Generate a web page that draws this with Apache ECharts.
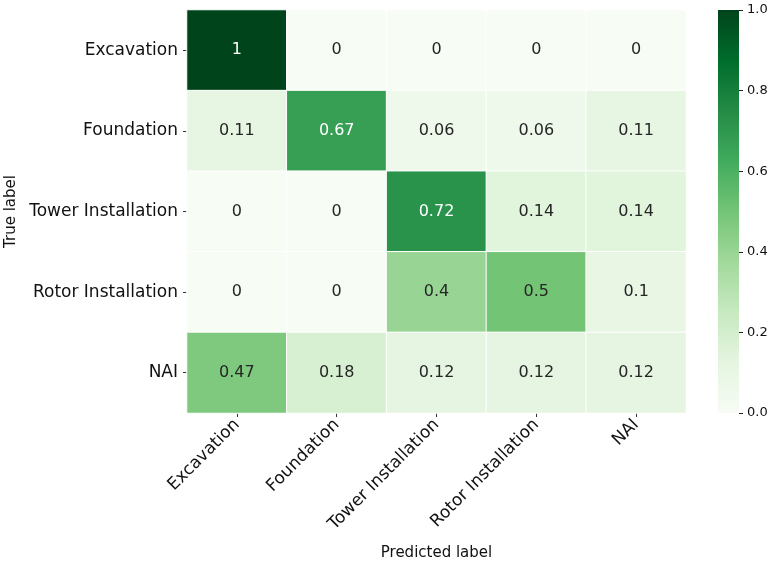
<!DOCTYPE html>
<html>
<head>
<meta charset="utf-8">
<script src="https://cdn.jsdelivr.net/npm/echarts@6/dist/echarts.min.js"></script>
<style>
  html, body { margin: 0; padding: 0; background: #fff; }
  #chart { width: 770px; height: 566px; }
</style>
</head>
<body>
<div id="chart"></div>
<script>
// Class names shared by both axes
const classes = ['Excavation', 'Foundation', 'Tower Installation', 'Rotor Installation', 'NAI'];

// Normalised confusion matrix, one array per true class (row), columns = predicted class
const rowExcavation = [1, 0, 0, 0, 0];
const rowFoundation = [0.11, 0.67, 0.06, 0.06, 0.11];
const rowTower      = [0, 0, 0.72, 0.14, 0.14];
const rowRotor      = [0, 0, 0.4, 0.5, 0.1];
const rowNAI        = [0.47, 0.18, 0.12, 0.12, 0.12];

// Colour bar tick spacing
const colorbarStep = 0.2;

// Sequential "Greens" palette
const greens = ['#f7fcf5', '#e5f5e0', '#c7e9c0', '#a1d99b', '#74c476', '#41ab5d', '#238b45', '#006d2c', '#00441b'];

const rows = [rowExcavation, rowFoundation, rowTower, rowRotor, rowNAI];
const cells = [];
rows.forEach((row, yi) => {
  row.forEach((v, xi) => {
    cells.push({
      value: [xi, yi, v],
      label: { color: v > 0.6 ? '#ffffff' : '#262626' }
    });
  });
});

const FONT = 'DejaVu Sans';
const INK = '#111111';
const chart = echarts.init(document.getElementById('chart'));
chart.setOption({
  animation: false,
  backgroundColor: '#ffffff',
  textStyle: { fontFamily: FONT },
  grid: [
    { left: 187, right: 84, top: 10, bottom: 153, containLabel: false, outerBoundsMode: 'none' },
    // colour bar strip: carries the bar's scale, tick marks and labels
    { left: 718, width: 21, top: 10, height: 403, containLabel: false, outerBoundsMode: 'none' }
  ],
  xAxis: [
    {
      type: 'category',
      gridIndex: 0,
      data: classes,
      axisLine: { show: false },
      axisTick: { show: true, alignWithLabel: true, length: 4, lineStyle: { color: '#333' } },
      axisLabel: { rotate: 45, fontSize: 17, color: INK, fontFamily: FONT, margin: 9, interval: 0 },
      splitArea: { show: false },
      name: 'Predicted label',
      nameLocation: 'middle',
      nameGap: 133,
      nameTextStyle: { fontSize: 15, color: INK, fontFamily: FONT }
    },
    {
      type: 'value', gridIndex: 1, min: 0, max: 1, show: false
    }
  ],
  yAxis: [
    {
      type: 'category',
      gridIndex: 0,
      data: classes,
      inverse: true,
      axisLine: { show: false },
      axisTick: { show: true, alignWithLabel: true, length: 4, lineStyle: { color: '#333' } },
      axisLabel: { fontSize: 17, color: INK, fontFamily: FONT, margin: 9, interval: 0 },
      name: 'True label',
      nameLocation: 'middle',
      nameGap: 161,
      nameRotate: 90,
      nameTextStyle: { fontSize: 15, color: INK, fontFamily: FONT }
    },
    {
      type: 'value',
      gridIndex: 1,
      position: 'right',
      min: 0,
      max: 1,
      interval: colorbarStep,
      axisLine: { show: true, onZero: false, lineStyle: { color: 'rgba(0,0,0,0)' } },
      axisTick: { show: true, length: 4, lineStyle: { color: '#222222', width: 1 } },
      splitLine: { show: false },
      axisLabel: {
        show: true,
        fontSize: 13, color: INK, fontFamily: FONT, margin: 8,
        formatter: v => v.toFixed(1)
      }
    }
  ],
  visualMap: {
    type: 'continuous',
    show: false,
    min: 0,
    max: 1,
    seriesIndex: 0,
    dimension: 2,
    inRange: { color: greens }
  },
  series: [
    {
      type: 'heatmap',
      xAxisIndex: 0,
      yAxisIndex: 0,
      data: cells,
      itemStyle: { borderColor: '#ffffff', borderWidth: 1 },
      label: {
        show: true,
        fontSize: 16,
        fontFamily: FONT,
        formatter: p => String(p.value[2])
      },
      emphasis: { disabled: true }
    },
    {
      // colour bar: one full-height rectangle filled with the palette gradient
      type: 'custom',
      xAxisIndex: 1,
      yAxisIndex: 1,
      silent: true,
      data: [[0, 0]],
      renderItem: (params, api) => {
        const p0 = api.coord([0, 0]);
        const p1 = api.coord([1, 1]);
        const stops = greens.map((c, i) => ({ offset: 1 - i / (greens.length - 1), color: c }));
        return {
          type: 'rect',
          shape: { x: p0[0], y: p1[1], width: p1[0] - p0[0], height: p0[1] - p1[1] },
          style: { fill: new echarts.graphic.LinearGradient(0, 0, 0, 1, stops) }
        };
      }
    }
  ]
});
</script>
</body>
</html>
